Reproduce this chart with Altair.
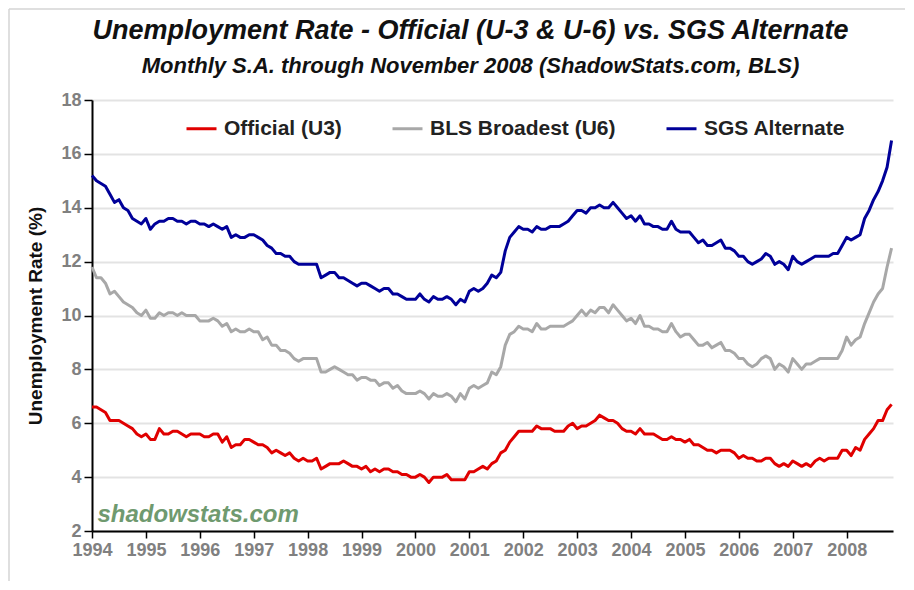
import pandas as pd
import altair as alt

years = list(range(1994, 2009))

# monthly, Jan 1994 .. Nov 2008
u3 = [
    6.6, 6.6, 6.5, 6.4, 6.1, 6.1, 6.1, 6.0, 5.9, 5.8, 5.6, 5.5,
    5.6, 5.4, 5.4, 5.8, 5.6, 5.6, 5.7, 5.7, 5.6, 5.5, 5.6, 5.6,
    5.6, 5.5, 5.5, 5.6, 5.6, 5.3, 5.5, 5.1, 5.2, 5.2, 5.4, 5.4,
    5.3, 5.2, 5.2, 5.1, 4.9, 5.0, 4.9, 4.8, 4.9, 4.7, 4.6, 4.7,
    4.6, 4.6, 4.7, 4.3, 4.4, 4.5, 4.5, 4.5, 4.6, 4.5, 4.4, 4.4,
    4.3, 4.4, 4.2, 4.3, 4.2, 4.3, 4.3, 4.2, 4.2, 4.1, 4.1, 4.0,
    4.0, 4.1, 4.0, 3.8, 4.0, 4.0, 4.0, 4.1, 3.9, 3.9, 3.9, 3.9,
    4.2, 4.2, 4.3, 4.4, 4.3, 4.5, 4.6, 4.9, 5.0, 5.3, 5.5, 5.7,
    5.7, 5.7, 5.7, 5.9, 5.8, 5.8, 5.8, 5.7, 5.7, 5.7, 5.9, 6.0,
    5.8, 5.9, 5.9, 6.0, 6.1, 6.3, 6.2, 6.1, 6.1, 6.0, 5.8, 5.7,
    5.7, 5.6, 5.8, 5.6, 5.6, 5.6, 5.5, 5.4, 5.4, 5.5, 5.4, 5.4,
    5.3, 5.4, 5.2, 5.2, 5.1, 5.0, 5.0, 4.9, 5.0, 5.0, 5.0, 4.9,
    4.7, 4.8, 4.7, 4.7, 4.6, 4.6, 4.7, 4.7, 4.5, 4.4, 4.5, 4.4,
    4.6, 4.5, 4.4, 4.5, 4.4, 4.6, 4.7, 4.6, 4.7, 4.7, 4.7, 5.0,
    5.0, 4.8, 5.1, 5.0, 5.4, 5.6, 5.8, 6.1, 6.1, 6.5, 6.7,
]
u6 = [
    11.8, 11.4, 11.4, 11.2, 10.8, 10.9, 10.7, 10.5, 10.4, 10.3, 10.1, 10.0,
    10.2, 9.9, 9.9, 10.1, 10.0, 10.1, 10.1, 10.0, 10.1, 10.0, 10.0, 10.0,
    9.8, 9.8, 9.8, 9.9, 9.8, 9.6, 9.7, 9.4, 9.5, 9.4, 9.4, 9.5,
    9.4, 9.4, 9.1, 9.2, 8.9, 8.9, 8.7, 8.7, 8.6, 8.4, 8.3, 8.4,
    8.4, 8.4, 8.4, 7.9, 7.9, 8.0, 8.1, 8.0, 7.9, 7.8, 7.8, 7.6,
    7.7, 7.7, 7.6, 7.6, 7.4, 7.5, 7.5, 7.3, 7.4, 7.2, 7.1, 7.1,
    7.1, 7.2, 7.1, 6.9, 7.1, 7.0, 7.0, 7.1, 7.0, 6.8, 7.1, 6.9,
    7.3, 7.4, 7.3, 7.4, 7.5, 7.9, 7.8, 8.1, 8.9, 9.3, 9.4, 9.6,
    9.5, 9.5, 9.4, 9.7, 9.5, 9.5, 9.6, 9.6, 9.6, 9.6, 9.7, 9.8,
    10.0, 10.2, 10.0, 10.2, 10.1, 10.3, 10.3, 10.1, 10.4, 10.2, 10.0, 9.8,
    9.9, 9.7, 10.0, 9.6, 9.6, 9.5, 9.5, 9.4, 9.4, 9.7, 9.4, 9.2,
    9.3, 9.3, 9.1, 8.9, 8.9, 9.0, 8.8, 8.9, 9.0, 8.7, 8.7, 8.6,
    8.4, 8.4, 8.2, 8.1, 8.2, 8.4, 8.5, 8.4, 8.0, 8.2, 8.1, 7.9,
    8.4, 8.2, 8.0, 8.2, 8.2, 8.3, 8.4, 8.4, 8.4, 8.4, 8.4, 8.7,
    9.2, 8.9, 9.1, 9.2, 9.7, 10.1, 10.5, 10.8, 11.0, 11.8, 12.5,
]
sgs = [
    15.2, 15.0, 14.9, 14.8, 14.5, 14.2, 14.3, 14.0, 13.9, 13.6, 13.5, 13.4,
    13.6, 13.2, 13.4, 13.5, 13.5, 13.6, 13.6, 13.5, 13.5, 13.4, 13.5, 13.5,
    13.4, 13.4, 13.3, 13.4, 13.3, 13.2, 13.3, 12.9, 13.0, 12.9, 12.9, 13.0,
    13.0, 12.9, 12.8, 12.6, 12.5, 12.3, 12.3, 12.2, 12.2, 12.0, 11.9, 11.9,
    11.9, 11.9, 11.9, 11.4, 11.5, 11.6, 11.6, 11.4, 11.4, 11.3, 11.2, 11.1,
    11.2, 11.2, 11.1, 11.0, 10.9, 11.0, 11.0, 10.8, 10.8, 10.7, 10.6, 10.6,
    10.6, 10.8, 10.6, 10.5, 10.7, 10.6, 10.6, 10.7, 10.6, 10.4, 10.6, 10.5,
    10.9, 11.0, 10.9, 11.0, 11.2, 11.5, 11.4, 11.6, 12.4, 12.9, 13.1, 13.3,
    13.2, 13.2, 13.1, 13.3, 13.2, 13.2, 13.3, 13.3, 13.3, 13.4, 13.5, 13.7,
    13.9, 13.9, 13.8, 14.0, 14.0, 14.1, 14.0, 14.0, 14.2, 14.0, 13.8, 13.6,
    13.7, 13.5, 13.7, 13.4, 13.4, 13.3, 13.3, 13.2, 13.2, 13.5, 13.2, 13.1,
    13.1, 13.1, 12.9, 12.7, 12.8, 12.6, 12.6, 12.7, 12.8, 12.5, 12.5, 12.4,
    12.2, 12.2, 12.0, 11.9, 12.0, 12.1, 12.3, 12.2, 11.9, 12.0, 11.9, 11.7,
    12.2, 12.0, 11.9, 12.0, 12.1, 12.2, 12.2, 12.2, 12.2, 12.3, 12.3, 12.6,
    12.9, 12.8, 12.9, 13.0, 13.6, 13.9, 14.3, 14.6, 15.0, 15.5, 16.5,
]

series_names = ['Official (U3)', 'BLS Broadest (U6)', 'SGS Alternate']
series_colors = ['#e00000', '#a8a8a8', '#000099']
series_widths = [3, 3, 5.5]

rows = []
for name, vals in zip(series_names, [u3, u6, sgs]):
    for i, v in enumerate(vals):
        rows.append({'t': 1994 + i / 12, 'rate': v, 'series': name})
df = pd.DataFrame(rows)

FONT = 'Liberation Sans'

lines = alt.Chart(df).mark_line(strokeJoin='round').encode(
    x=alt.X('t:Q',
            scale=alt.Scale(domain=[1994, 2008.86], nice=False, zero=False),
            axis=alt.Axis(values=years, format='d', title=None, grid=False,
                          tickSize=7, labelPadding=3, labelOverlap=False,
                          labelFlush=False)),
    y=alt.Y('rate:Q',
            scale=alt.Scale(domain=[2, 18], nice=False, zero=False),
            axis=alt.Axis(values=list(range(2, 19, 2)), title='Unemployment Rate (%)',
                          grid=True, gridColor='#e3e3e3', gridWidth=2,
                          tickSize=8, labelPadding=3, titlePadding=15)),
    color=alt.Color('series:N',
                    scale=alt.Scale(domain=series_names, range=series_colors),
                    legend=alt.Legend(orient='none', legendX=93, legendY=12,
                                      direction='horizontal', title=None,
                                      symbolType='stroke', symbolSize=900,
                                      symbolStrokeWidth=4, columnPadding=44,
                                      labelOffset=6, labelFont=FONT,
                                      labelFontSize=21, labelFontWeight='bold',
                                      labelColor='#222222', labelLimit=300)),
    strokeWidth=alt.StrokeWidth('series:N',
                                scale=alt.Scale(domain=series_names, range=series_widths),
                                legend=None),
)

mark_df = pd.DataFrame({'t': [1994.1], 'rate': [2.34], 'label': ['shadowstats.com']})
watermark = alt.Chart(mark_df).mark_text(
    align='left', baseline='alphabetic', font=FONT, fontSize=24,
    fontStyle='italic', fontWeight='bold', color='#6f9a6f'
).encode(x='t:Q', y='rate:Q', text='label:N')

frame_df = pd.DataFrame({'a': [0]})
left_edge = alt.Chart(frame_df).mark_rule(color='#d4d4d4', strokeWidth=1.5).encode(
    x=alt.value(-83), y=alt.value(-91), y2=alt.value(481))
top_edge = alt.Chart(frame_df).mark_rule(color='#d4d4d4', strokeWidth=1.5).encode(
    x=alt.value(-83), x2=alt.value(825), y=alt.value(-91))

chart = alt.layer(left_edge, top_edge, lines, watermark).properties(
    width=801,
    height=431,
    autosize=alt.AutoSizeParams(type='none'),
    padding={'left': 84, 'top': 92, 'right': 12, 'bottom': 50},
    title=alt.TitleParams(
        text='Unemployment Rate - Official (U-3 & U-6) vs. SGS Alternate',
        subtitle='Monthly S.A. through November 2008 (ShadowStats.com, BLS)',
        font=FONT, fontSize=27, fontStyle='italic', fontWeight='bold', color='#111111',
        subtitleFont=FONT, subtitleFontSize=22, subtitleFontStyle='italic',
        subtitleFontWeight='bold', subtitleColor='#111111', subtitlePadding=11,
        anchor='middle', frame='group', dx=-22, offset=-70,
    ),
).configure_axis(
    labelFont=FONT, labelFontSize=18, labelFontWeight='bold', labelColor='#808080',
    titleFont=FONT, titleFontSize=19, titleFontWeight='bold', titleColor='#111111',
    domainColor='#000000', domainWidth=2, tickColor='#000000', tickWidth=1.5,
).configure_view(
    strokeWidth=0
)

chart.save('out.html', embed_options={'renderer': 'svg', 'actions': False})
